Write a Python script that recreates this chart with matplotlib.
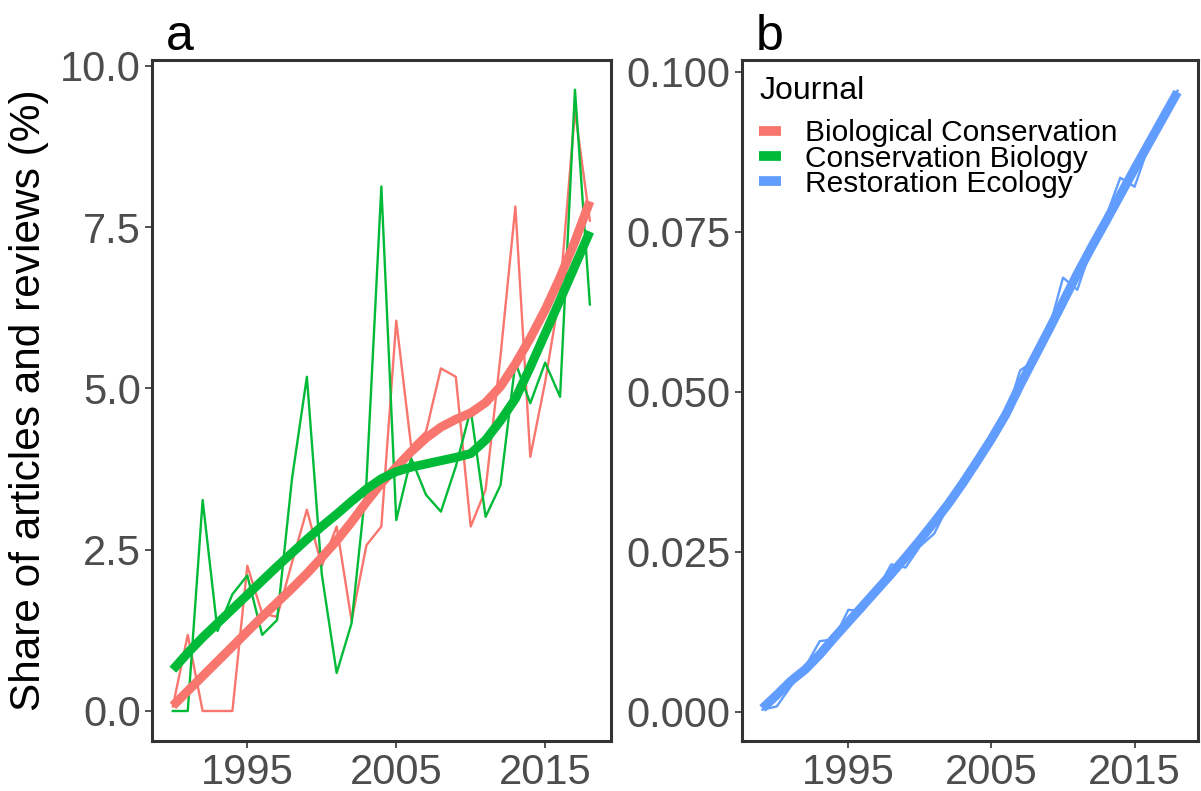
import numpy as np
import matplotlib
matplotlib.use("Agg")
import matplotlib.pyplot as plt

plt.rcParams['font.family'] = ['Liberation Sans', 'DejaVu Sans']

# panel a: share of articles and reviews (%), 1990-2018
years_a = list(range(1990, 2019))
bio_cons = [0.07, 1.18, 0.0, 0.0, 0.0, 2.25, 1.51, 1.46, 2.30, 3.12,
            2.25, 2.86, 1.40, 2.57, 2.86, 6.05, 4.10, 4.33, 5.31, 5.18,
            2.86, 3.43, 5.50, 7.82, 3.94, 5.10, 6.50, 9.30, 7.60]
cons_bio = [0.0, 0.0, 3.27, 1.24, 1.81, 2.10, 1.18, 1.41, 3.60, 5.18,
            2.12, 0.59, 1.36, 3.55, 8.13, 2.96, 3.92, 3.35, 3.09, 3.79,
            4.67, 3.01, 3.50, 5.40, 4.77, 5.40, 4.87, 9.63, 6.30]
bio_cons_smooth = [0.08, 0.31, 0.54, 0.77, 1.00, 1.23, 1.46, 1.68, 1.90, 2.13,
                   2.38, 2.64, 2.93, 3.24, 3.53, 3.78, 4.02, 4.23, 4.40, 4.52,
                   4.62, 4.78, 5.03, 5.38, 5.78, 6.22, 6.72, 7.28, 7.90]
cons_bio_smooth = [0.64, 0.90, 1.14, 1.36, 1.58, 1.80, 2.02, 2.24, 2.45, 2.66,
                   2.86, 3.05, 3.25, 3.44, 3.60, 3.71, 3.78, 3.83, 3.88, 3.93,
                   3.99, 4.20, 4.50, 4.84, 5.33, 5.85, 6.37, 6.90, 7.43]

# panel b: Restoration Ecology, 1989-2018
years_b = list(range(1989, 2019))
rest_eco = [0.0003, 0.0008, 0.0040, 0.0070, 0.0110, 0.0113, 0.0159, 0.0157, 0.0190, 0.0230,
            0.0225, 0.0258, 0.0278, 0.0323, 0.0359, 0.0390, 0.0425, 0.0460, 0.0533, 0.0548,
            0.0596, 0.0678, 0.0659, 0.0726, 0.0773, 0.0834, 0.0820, 0.0885, 0.0926, 0.0970]
rest_eco_smooth = [0.0005, 0.0026, 0.0048, 0.0066, 0.0089, 0.0115, 0.0140, 0.0165, 0.0190, 0.0215,
                   0.0241, 0.0268, 0.0296, 0.0325, 0.0357, 0.0391, 0.0426, 0.0464, 0.0510, 0.0553,
                   0.0596, 0.0640, 0.0684, 0.0726, 0.0766, 0.0807, 0.0848, 0.0888, 0.0928, 0.0968]

journals = ["Biological Conservation", "Conservation Biology", "Restoration Ecology"]
colors = ["#F8766D", "#00BA38", "#619CFF"]

tick_col = "#4D4D4D"
frame_col = "#333333"

fig = plt.figure(figsize=(12.01, 7.91), dpi=100)
ax1 = fig.add_axes([152 / 1201, 50 / 791, 458.7 / 1201, 681 / 791])
ax2 = fig.add_axes([741.7 / 1201, 50 / 791, 456.6 / 1201, 681 / 791])


def style(ax):
    for s in ax.spines.values():
        s.set_color(frame_col)
        s.set_linewidth(2.2)
    ax.tick_params(axis='both', colors=frame_col, labelcolor=tick_col,
                   labelsize=30, length=5, width=1.2, pad=3)
    ax.tick_params(axis='x', pad=4)
    ax.set_xticks([1995, 2005, 2015])


# panel a
ax1.plot(years_a, bio_cons, color=colors[0], lw=1.7)
ax1.plot(years_a, cons_bio, color=colors[1], lw=1.7)
ax1.plot(years_a, bio_cons_smooth, color=colors[0], lw=6.5, solid_capstyle='butt')
ax1.plot(years_a, cons_bio_smooth, color=colors[1], lw=6.5, solid_capstyle='butt')
ax1.set_xlim(1988.6, 2019.4)
ax1.set_ylim(-0.465, 10.09)
ax1.set_yticks([0, 2.5, 5, 7.5, 10])
ax1.set_yticklabels(["0.0", "2.5", "5.0", "7.5", "10.0"])
style(ax1)
ax1.set_ylabel("Share of articles and reviews (%)", fontsize=30.5, color="black", labelpad=8)
ax1.text(0.03, 1.0, "a", transform=ax1.transAxes, fontsize=36, va='bottom', ha='left')

# panel b
ax2.plot(years_b, rest_eco, color=colors[2], lw=1.7)
ax2.plot(years_b, rest_eco_smooth, color=colors[2], lw=6.5, solid_capstyle='butt')
ax2.set_xlim(1987.55, 2019.45)
ax2.set_ylim(-0.0046, 0.1018)
ax2.set_yticks([0, 0.025, 0.05, 0.075, 0.1])
ax2.set_yticklabels(["0.000", "0.025", "0.050", "0.075", "0.100"])
style(ax2)
ax2.text(0.03, 1.0, "b", transform=ax2.transAxes, fontsize=36, va='bottom', ha='left')

ax2.text(0.04, 0.955, "Journal", transform=ax2.transAxes, fontsize=23,
         va='center', ha='left')
handles = [plt.Line2D([], [], color=c, lw=7, solid_capstyle='butt') for c in colors]
ax2.legend(handles, journals, loc='upper left', bbox_to_anchor=(0.037, 0.913),
           frameon=False, fontsize=21.5, handlelength=0.75, handletextpad=0.8,
           labelspacing=-0.09, borderaxespad=0, borderpad=0)

fig.savefig("out.png", dpi=100)
